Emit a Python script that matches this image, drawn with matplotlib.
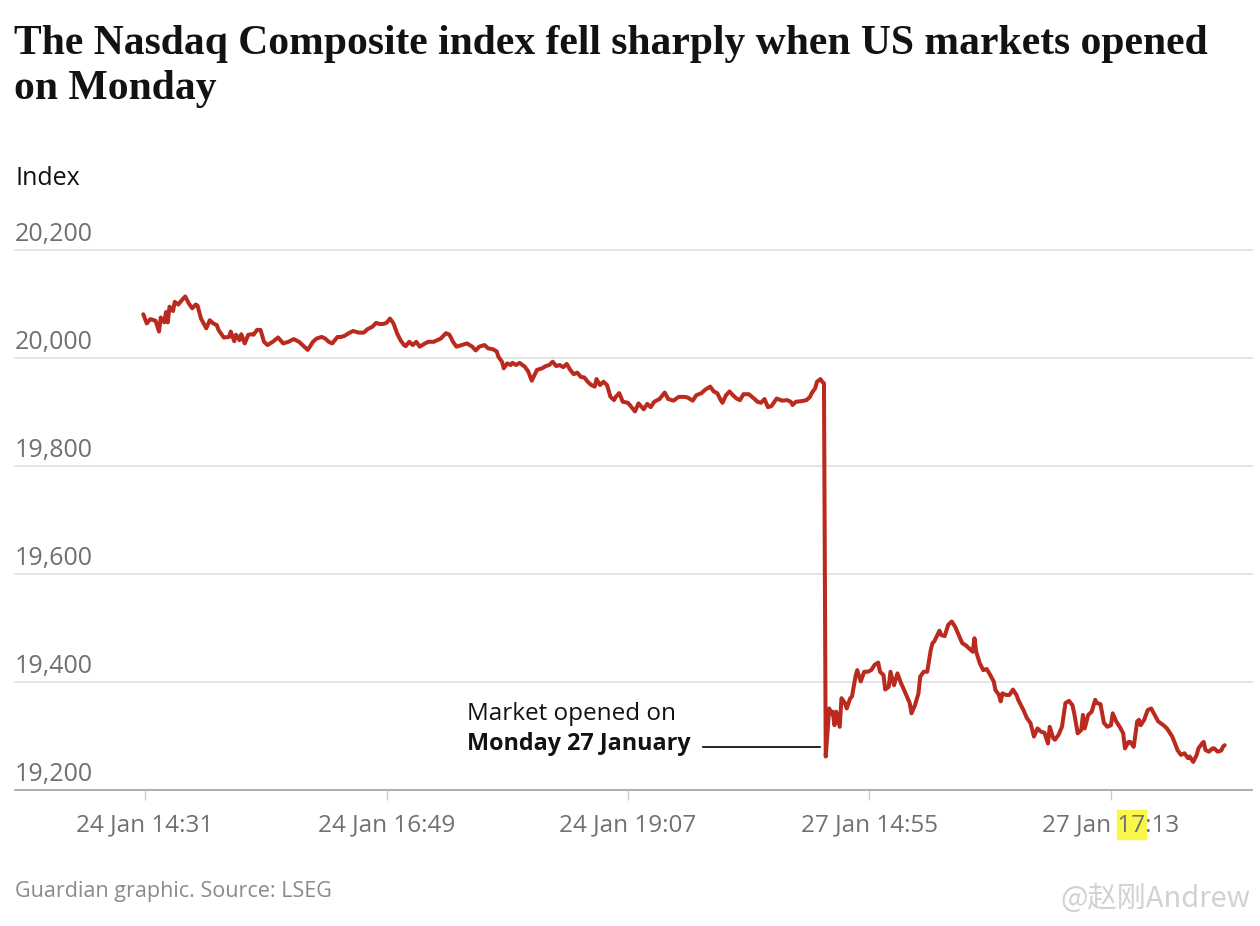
import matplotlib
matplotlib.use("Agg")
import matplotlib.pyplot as plt
import matplotlib.transforms as mtransforms
from matplotlib.patches import Rectangle

# minutes counted from 24 Jan 14:30 (market open), Monday session continues at 390
fri_minute = [0, 2, 4, 6, 7, 9, 10, 12, 13, 14, 15, 17, 18, 20, 22, 24, 26, 28, 30, 31,
              33, 36, 38, 40, 42, 43, 46, 49, 50, 52, 53, 55, 56, 58, 60, 62, 63, 65, 67, 69,
              71, 74, 77, 80, 83, 86, 89, 93, 94, 97, 99, 102, 104, 106, 108, 111, 113,
              115, 118, 120, 123, 126, 128, 131, 133, 135, 137, 139, 141, 143, 145, 147, 149,
              150, 152, 154, 156, 158, 161, 163, 166, 168, 170, 173, 175, 177, 179, 182, 185,
              188, 190, 192, 195, 197, 200, 202, 203, 205, 206, 208, 210, 211, 213, 215, 218,
              220, 222, 225, 228, 230, 232, 234, 236, 238, 240, 242, 244, 246, 248, 250, 252,
              254, 256, 258, 259, 261, 263, 265, 267, 269, 270, 272, 274, 277, 278, 281, 283,
              286, 288, 290, 292, 295, 298, 300, 303, 306, 309, 311, 314, 316, 319, 321, 324,
              326, 328, 330, 331, 333, 335, 337, 339, 341, 343, 346, 349, 351, 353, 355, 357,
              359, 362, 365, 368, 370, 371, 373, 376, 379, 381, 382, 384, 385, 387, 388, 389]
fri_index = [20081, 20064, 20072, 20070, 20069, 20049, 20075, 20066, 20085, 20066, 20095, 20087,
             20104, 20099, 20107, 20114, 20101, 20092, 20099, 20097, 20073, 20055, 20070, 20064,
             20061, 20052, 20038, 20039, 20049, 20031, 20043, 20033, 20044, 20027, 20043, 20044,
             20043, 20052, 20052, 20030, 20024, 20030, 20038, 20027, 20030, 20035, 20030, 20018,
             20015, 20030, 20036, 20039, 20036, 20030, 20027, 20039, 20039,
             20041, 20047, 20050, 20047, 20047, 20053, 20058, 20065, 20063, 20063, 20065, 20073,
             20064, 20046, 20033, 20024, 20022, 20030, 20024, 20030, 20021, 20027, 20030, 20030,
             20033, 20036, 20046, 20043, 20030, 20021, 20024, 20027, 20021, 20014, 20021, 20024,
             20018, 20016, 20012, 20002, 19993, 19981, 19990, 19987, 19991, 19987, 19991, 19984,
             19975, 19958, 19978, 19981, 19985, 19987, 19993, 19985, 19987, 19983, 19989, 19978,
             19970, 19973, 19965, 19964, 19956, 19950, 19947, 19961, 19950, 19956, 19950, 19928,
             19922, 19928, 19935, 19919, 19917, 19913, 19901, 19916, 19905, 19915, 19909, 19919,
             19924, 19936, 19924, 19921, 19928, 19928, 19927, 19921, 19931, 19935, 19941, 19947,
             19938, 19935, 19922, 19917, 19931, 19938, 19931, 19925, 19922, 19933, 19933, 19925,
             19919, 19917, 19924, 19909, 19911, 19925, 19921, 19922, 19919, 19913, 19919, 19920,
             19922, 19928, 19935, 19944, 19956, 19961, 19956, 19953]

mon_minute = [390, 392, 393, 394, 395, 396, 398, 399, 401, 402, 404, 405, 407, 408, 410, 412,
              414, 416, 418, 420, 421, 423, 424, 426, 427, 429, 431, 433, 434, 436, 438, 439,
              441, 443, 444, 446, 448, 450, 451, 452, 455, 456, 458, 460, 462, 464, 466, 468,
              470, 472, 474, 475, 476, 478, 480, 482, 484, 486, 487, 489, 490, 491, 493, 495,
              497, 499, 500, 503, 505, 507, 509, 511, 513, 515, 517, 518, 520, 521, 523, 525,
              527, 529, 531, 532, 534, 536, 537, 538, 540, 542, 544, 545, 547, 549, 551, 553,
              554, 556, 558, 560, 561, 563, 564, 566, 568, 569, 570, 572, 574, 576, 578, 580,
              583, 585, 588, 590, 591, 593, 595, 597, 598, 600, 602, 603, 605, 606, 607, 609,
              611, 612, 614, 616, 617, 618]
mon_index = [19262, 19351, 19342, 19345, 19320, 19345, 19317, 19370, 19361, 19351, 19370, 19373,
             19410, 19422, 19401, 19419, 19419, 19422, 19432, 19436, 19419, 19413, 19386, 19391,
             19419, 19394, 19416, 19398, 19391, 19376, 19361, 19342, 19357, 19379, 19410, 19419,
             19419, 19459, 19472, 19475, 19495, 19487, 19485, 19506, 19512, 19502, 19487, 19472,
             19468, 19462, 19456, 19481, 19456, 19435, 19422, 19424, 19413, 19401, 19385, 19376,
             19364, 19379, 19376, 19376, 19386, 19376, 19367, 19348, 19333, 19324, 19299, 19314,
             19308, 19306, 19286, 19317, 19296, 19293, 19302, 19317, 19361, 19365, 19357, 19342,
             19305, 19311, 19339, 19314, 19339, 19345, 19367, 19361, 19359, 19324, 19317, 19320,
             19342, 19327, 19317, 19305, 19277, 19289, 19289, 19280, 19327, 19330, 19320, 19330,
             19348, 19351, 19339, 19327, 19320, 19314, 19299, 19283, 19274, 19265, 19268, 19259,
             19262, 19252, 19265, 19277, 19286, 19289, 19274, 19271, 19277, 19277, 19271, 19273,
             19280, 19283]

tick_minute = [1, 139, 277, 415, 553]
tick_labels = ["24 Jan 14:31", "24 Jan 16:49", "24 Jan 19:07", "27 Jan 14:55", "27 Jan 17:13"]
y_ticks = [19200, 19400, 19600, 19800, 20000, 20200]

RED = "#bb2a1e"
GREY = "#707070"
SANS = ["Open Sans", "DejaVu Sans"]

W, H = 1260, 926
fig = plt.figure(figsize=(W / 100, H / 100), dpi=100)


def fx(px):
    return px / W


def fy(py):
    return 1 - py / H


ax = fig.add_axes([fx(15), fy(790), (1252 - 15) / W, (790 - 250) / H])
ax.patch.set_visible(False)
ax.set_xlim(-73.3, 633.6)
ax.set_ylim(19200, 20200)

for y in y_ticks[1:]:
    ax.axhline(y, color="#dcdcdc", lw=1.1, zorder=1, clip_on=False)
for y in y_ticks:
    ax.annotate(f"{y:,}", xy=(0, y), xycoords=("axes fraction", "data"),
                xytext=(0, 6.5), textcoords="offset points", ha="left", va="baseline",
                fontsize=18, color=GREY, family=SANS)

ax.plot(fri_minute + mon_minute, fri_index + mon_index, color=RED, lw=2.9,
        solid_joinstyle="round", solid_capstyle="round", zorder=3)

for s in ["top", "left", "right"]:
    ax.spines[s].set_visible(False)
ax.spines["bottom"].set_color("#a0a0a0")
ax.spines["bottom"].set_linewidth(1.2)
ax.set_yticks([])
ax.set_xticks(tick_minute, tick_labels)
ax.tick_params(axis="x", length=7.5, width=1, color="#cccccc", pad=9,
               labelsize=17.5, labelcolor=GREY)
for lab in ax.get_xticklabels():
    lab.set_family(SANS)

# annotation for the Monday open
open_minute = mon_minute[0]
ax.plot([open_minute - 70, open_minute - 3], [19280, 19280], color="black", lw=1.2, zorder=2)
fig.text(fx(467), fy(720), "Market opened on", ha="left", va="baseline",
         fontsize=17.5, family=SANS, color="#121212")
fig.text(fx(467), fy(750), "Monday 27 January", ha="left", va="baseline",
         fontsize=16.8, family=SANS, weight="bold", color="#121212")

# headings and notes
fig.text(fx(14), fy(54), "The Nasdaq Composite index fell sharply when US markets opened",
         ha="left", va="baseline", fontsize=30, weight="bold", family="Liberation Serif",
         color="#121212")
fig.text(fx(14), fy(99), "on Monday", ha="left", va="baseline", fontsize=30, weight="bold",
         family="Liberation Serif", color="#121212")
fig.text(fx(15), fy(185), "Index", ha="left", va="baseline", fontsize=18, family=SANS,
         color="#121212")
fig.text(fx(15), fy(897), "Guardian graphic. Source: LSEG", ha="left", va="baseline",
         fontsize=15.5, family=SANS, color="#8a8a8a")
fig.text(fx(1250), fy(907), "@赵刚Andrew", ha="right", va="baseline", fontsize=21,
         family=["Noto Sans CJK SC", "DejaVu Sans"], color="#d2d2d2")

# yellow highlight behind "17" of the last tick label
fig.canvas.draw()
renderer = fig.canvas.get_renderer()
lab = ax.get_xticklabels()[-1]
bb = lab.get_window_extent(renderer)
prop = lab.get_fontproperties()
w_pre, _, _ = renderer.get_text_width_height_descent("27 Jan 17", prop, ismath=False)
w_17, _, _ = renderer.get_text_width_height_descent("17", prop, ismath=False)
x0 = bb.x0 + w_pre - w_17
fig.add_artist(Rectangle((x0 - 1, bb.y0 - 2), w_17 + 2, bb.height + 5, color="#fbf64a",
                         transform=mtransforms.IdentityTransform(), zorder=-1))

fig.savefig("out.png", dpi=100, facecolor="white")
